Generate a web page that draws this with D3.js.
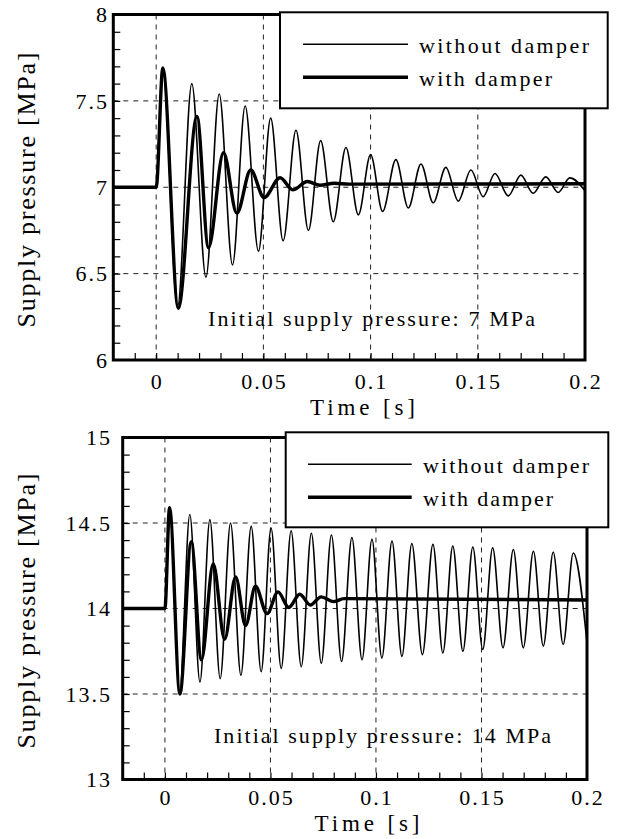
<!DOCTYPE html>
<html>
<head>
<meta charset="utf-8">
<script src="https://cdn.jsdelivr.net/npm/d3@7/dist/d3.min.js"></script>
<style>
  html, body { margin: 0; padding: 0; background: #fff; }
  svg { display: block; }
</style>
</head>
<body>
<svg id="chart" width="621" height="839"></svg>
<script>
// ---------------- data ----------------
const tickTimes = [0, 0.05, 0.1, 0.15, 0.2];
const tickTimeLabels = ["0", "0.05", "0.1", "0.15", "0.2"];
const timeDomain = [-0.02, 0.2];

const topPressureTicks = [6, 6.5, 7, 7.5, 8];
const topPressureLabels = ["6", "6.5", "7", "7.5", "8"];
const bottomPressureTicks = [13, 13.5, 14, 14.5, 15];
const bottomPressureLabels = ["13", "13.5", "14", "14.5", "15"];

const seriesNames = ["without damper", "with damper"];
const annotations = ["Initial supply pressure: 7 MPa", "Initial supply pressure: 14 MPa"];

// [time s, pressure MPa] (peaks and troughs)
const topWithout = [
  [-0.02, 7], [0, 7], [0.0031, 7.69], [0.0100, 6.31], [0.0166, 7.60], [0.0232, 6.48],
  [0.0294, 7.54], [0.0356, 6.55], [0.0415, 7.47], [0.0477, 6.63], [0.0534, 7.40],
  [0.0592, 6.69], [0.0652, 7.33], [0.0710, 6.75], [0.0767, 7.27], [0.0826, 6.80],
  [0.0885, 7.23], [0.0943, 6.84], [0.1000, 7.19], [0.1056, 6.86], [0.1118, 7.16],
  [0.1176, 6.88], [0.1235, 7.135], [0.1292, 6.91], [0.1351, 7.115], [0.1409, 6.92],
  [0.1468, 7.10], [0.1525, 6.945], [0.1580, 7.08], [0.1642, 6.95], [0.1701, 7.07],
  [0.1758, 6.965], [0.1817, 7.06], [0.1875, 6.97], [0.1929, 7.054], [0.2, 6.98]
];
const topWith = [
  [-0.02, 7], [0, 7], [0.0031, 7.69], [0.0103, 6.30], [0.0190, 7.41], [0.0244, 6.65],
  [0.0314, 7.20], [0.0376, 6.85], [0.0441, 7.10], [0.0503, 6.94], [0.0578, 7.055],
  [0.0637, 6.985], [0.0705, 7.033], [0.0764, 7.012], [0.0830, 7.023], [0.0900, 7.018],
  [0.2, 7.02]
];
const bottomWithout = [
  [-0.02, 14], [0, 14], [0.0022, 14.59], [0.0070, 13.52], [0.0118, 14.55], [0.0166, 13.57],
  [0.0213, 14.52], [0.0262, 13.59], [0.0311, 14.50], [0.0360, 13.61], [0.0409, 14.48],
  [0.0456, 13.63], [0.0503, 14.47], [0.0551, 13.65], [0.0598, 14.455], [0.0646, 13.66],
  [0.0694, 14.44], [0.0741, 13.68], [0.0789, 14.43], [0.0837, 13.69], [0.0886, 14.415],
  [0.0934, 13.70], [0.0981, 14.405], [0.1028, 13.71], [0.1076, 14.395], [0.1123, 13.72],
  [0.1170, 14.38], [0.1220, 13.73], [0.1270, 14.375], [0.1317, 13.74], [0.1364, 14.365],
  [0.1412, 13.75], [0.1459, 14.36], [0.1506, 13.76], [0.1553, 14.355], [0.1602, 13.77],
  [0.1651, 14.345], [0.1698, 13.77], [0.1746, 14.335], [0.1793, 13.78], [0.1840, 14.33],
  [0.1887, 13.79], [0.1935, 14.325], [0.2, 13.80]
];
const bottomWith = [
  [-0.02, 14], [0, 14], [0.0022, 14.59], [0.0071, 13.50], [0.0125, 14.39], [0.0173, 13.70],
  [0.0229, 14.26], [0.0283, 13.82], [0.0335, 14.185], [0.0382, 13.90], [0.0429, 14.13],
  [0.0484, 13.97], [0.0536, 14.097], [0.0587, 14.006], [0.0639, 14.083], [0.0689, 14.02],
  [0.0740, 14.068], [0.0800, 14.04], [0.0848, 14.058], [0.2, 14.05]
];

// ---------------- drawing ----------------
const SERIF = "'Liberation Serif', Tinos, 'Times New Roman', Times, 'Noto Serif', 'DejaVu Serif', serif";
const svg = d3.select("#chart").attr("font-family", SERIF);
const FONT = 22;

function txt(sel) {
  return sel.attr("font-family", SERIF).attr("fill", "#000");
}

function drawPanel(cfg) {
  const x = d3.scaleLinear().domain(timeDomain).range([cfg.left, cfg.right]);
  const y = d3.scaleLinear().domain([cfg.yTicks[0], cfg.yTicks[cfg.yTicks.length - 1]]).range([cfg.bottom, cfg.top]);
  const g = svg.append("g");
  const clipId = "clip" + cfg.id;
  svg.append("defs").append("clipPath").attr("id", clipId)
    .append("rect").attr("x", cfg.left).attr("y", cfg.top)
    .attr("width", cfg.right - cfg.left).attr("height", cfg.bottom - cfg.top);

  // grid
  const gridX = tickTimes.filter(t => t < timeDomain[1]);
  const gridY = cfg.yTicks.slice(1, -1);
  g.append("g").selectAll("line").data(gridX).join("line")
    .attr("x1", d => x(d)).attr("x2", d => x(d)).attr("y1", cfg.top).attr("y2", cfg.bottom)
    .attr("stroke", "#222").attr("stroke-width", 1).attr("stroke-dasharray", "5,5");
  g.append("g").selectAll("line").data(gridY).join("line")
    .attr("x1", cfg.left).attr("x2", cfg.right).attr("y1", d => y(d)).attr("y2", d => y(d))
    .attr("stroke", "#222").attr("stroke-width", 1).attr("stroke-dasharray", "5,5");

  // series
  const line = d3.line().x(d => x(d[0])).y(d => y(d[1])).curve(d3.curveMonotoneX);
  const sg = g.append("g").attr("clip-path", `url(#${clipId})`);
  sg.append("path").datum(cfg.without).attr("d", line)
    .attr("fill", "none").attr("stroke", "#000").attr("stroke-width", 1.6).attr("stroke-linejoin", "round");
  sg.append("path").datum(cfg.withD).attr("d", line)
    .attr("fill", "none").attr("stroke", "#000").attr("stroke-width", 3.4).attr("stroke-linejoin", "round");

  // minor ticks (inward) via axes
  const minorX = d3.range(-1, 20).map(i => i / 100);
  const yMin = cfg.yTicks[0];
  const minorY = d3.range(1, 20).map(i => +(yMin + i * 0.1).toFixed(2));
  const ax = g.append("g").attr("transform", `translate(0,${cfg.bottom})`)
    .call(d3.axisBottom(x).tickValues(minorX).tickSize(-7).tickFormat(""));
  ax.select(".domain").remove();
  ax.selectAll("line").attr("stroke", "#000").attr("stroke-width", 1.2);
  const ay = g.append("g").attr("transform", `translate(${cfg.left},0)`)
    .call(d3.axisLeft(y).tickValues(minorY).tickSize(-7).tickFormat(""));
  ay.select(".domain").remove();
  ay.selectAll("line").attr("stroke", "#000").attr("stroke-width", 1.2);

  // frame
  g.append("rect").attr("x", cfg.left).attr("y", cfg.top)
    .attr("width", cfg.right - cfg.left).attr("height", cfg.bottom - cfg.top)
    .attr("fill", "none").attr("stroke", "#000").attr("stroke-width", 3);

  // tick labels
  txt(g.append("g").selectAll("text").data(tickTimes).join("text"))
    .attr("x", d => x(d) + 1).attr("y", cfg.xLabelBase)
    .attr("text-anchor", "middle").attr("font-size", FONT).attr("letter-spacing", 2)
    .text((d, i) => tickTimeLabels[i]);
  txt(g.append("g").selectAll("text").data(cfg.yTicks).join("text"))
    .attr("x", cfg.yLabelRight + 2).attr("y", d => y(d)).attr("dy", "0.35em")
    .attr("text-anchor", "end").attr("font-size", FONT).attr("letter-spacing", 2)
    .text((d, i) => cfg.yLabels[i]);

  // axis titles
  txt(g.append("text")).attr("x", cfg.timeTitleX).attr("y", cfg.timeTitleBase)
    .attr("text-anchor", "middle").attr("font-size", 23)
    .attr("textLength", 105).attr("lengthAdjust", "spacing").text("Time [s]");
  txt(g.append("text")).attr("transform", `translate(35,${cfg.yTitleMid}) rotate(-90)`)
    .attr("text-anchor", "middle").attr("font-size", 26)
    .attr("textLength", 275).attr("lengthAdjust", "spacing").text("Supply pressure [MPa]");

  // annotation
  txt(g.append("text")).attr("x", cfg.annX).attr("y", cfg.annBase)
    .attr("font-size", FONT).attr("textLength", cfg.annLen).attr("lengthAdjust", "spacing")
    .text(cfg.annotation);

  // legend
  const L = cfg.legend;
  g.append("rect").attr("x", L.x0).attr("y", L.y0).attr("width", L.x1 - L.x0).attr("height", L.y1 - L.y0)
    .attr("fill", "#fff").attr("stroke", "#000").attr("stroke-width", 2);
  const widths = [1.6, 3.4];
  const textLens = [L.len0, L.len1];
  seriesNames.forEach((name, i) => {
    const ly = L.lineY + i * 33;
    g.append("line").attr("x1", L.lx0).attr("x2", L.lx1).attr("y1", ly).attr("y2", ly)
      .attr("stroke", "#000").attr("stroke-width", widths[i]);
    txt(g.append("text")).attr("x", L.tx).attr("y", ly + 9).attr("font-size", FONT)
      .attr("textLength", textLens[i]).attr("lengthAdjust", "spacing").text(name);
  });
}

drawPanel({
  id: "top", left: 113.3, right: 585, top: 14.5, bottom: 360,
  yTicks: topPressureTicks, yLabels: topPressureLabels,
  without: topWithout, withD: topWith,
  xLabelBase: 389, yLabelRight: 107,
  timeTitleX: 362.5, timeTitleBase: 415, yTitleMid: 190,
  annotation: annotations[0], annX: 208, annBase: 326, annLen: 327,
  legend: { x0: 280, x1: 607.7, y0: 12.3, y1: 108.3, lineY: 44.3, lx0: 303, lx1: 408, tx: 419, len0: 170, len1: 133 }
});
drawPanel({
  id: "bot", left: 122.7, right: 587, top: 437.5, bottom: 779.5,
  yTicks: bottomPressureTicks, yLabels: bottomPressureLabels,
  without: bottomWithout, withD: bottomWith,
  xLabelBase: 805, yLabelRight: 110,
  timeTitleX: 367, timeTitleBase: 831, yTitleMid: 611,
  annotation: annotations[1], annX: 214, annBase: 743, annLen: 337,
  legend: { x0: 285.7, x1: 608.3, y0: 432.3, y1: 527.3, lineY: 464.3, lx0: 308, lx1: 411.7, tx: 423, len0: 166, len1: 130 }
});
</script>
</body>
</html>
